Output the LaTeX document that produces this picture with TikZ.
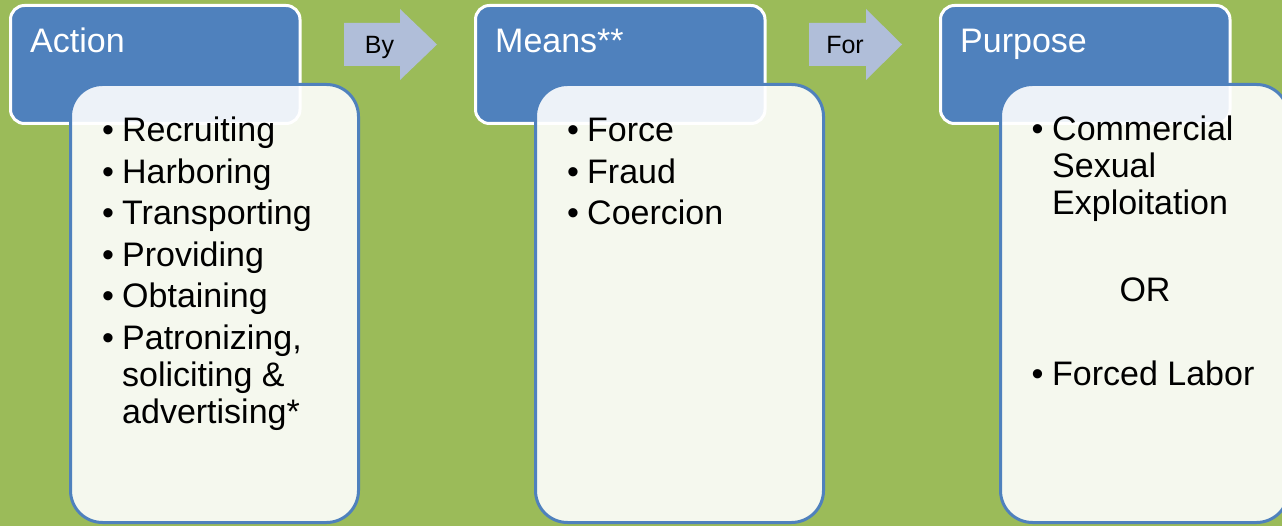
\documentclass[tikz,border=0pt]{standalone}
\usepackage{fontspec}
\setmainfont{Liberation Sans}
\definecolor{bg}{HTML}{9BBB59}
\definecolor{acc}{HTML}{4F81BD}
\definecolor{arr}{HTML}{B0BED9}
\begin{document}
\begin{tikzpicture}[x=1pt,y=-1pt,
  hdr/.style={draw=white, line width=3pt, fill=acc, rounded corners=14pt,
    minimum width=289.5pt, minimum height=118pt, anchor=north west,
    inner sep=0pt, outer sep=0pt},
  card/.style={draw=acc, line width=3pt, fill=white, fill opacity=0.9,
    draw opacity=1, rounded corners=32pt, minimum width=288pt,
    minimum height=438pt, anchor=north west, inner sep=0pt, outer sep=0pt},
  htxt/.style={text=white, anchor=base west, inner sep=0pt,
    font=\fontsize{34}{37}\selectfont},
  itm/.style={text=black, anchor=base west, inner sep=0pt,
    font=\fontsize{34}{37}\selectfont},
  bul/.style={text=black, anchor=base, inner sep=0pt,
    font=\fontsize{34}{37}\selectfont},
  atxt/.style={text=black, anchor=base, inner sep=0pt,
    font=\fontsize{25}{28}\selectfont},
  arrowshape/.style={fill=arr, draw=none}
]
\useasboundingbox (0,0) rectangle (1282,526);
\clip (0,0) rectangle (1282,526);
\fill[bg] (0,0) rectangle (1282,526);

% header boxes
\node[hdr] (h1) at (10.5,5.5) {};
\node[hdr] (h2) at (475.5,5.5) {};
\node[hdr] (h3) at (940.5,5.5) {};

% cards
\node[card] (c1) at (70.5,84.5) {};
\node[card] (c2) at (535.5,84.5) {};
\node[card] (c3) at (1000.5,84.5) {};

% header texts
\node[htxt] (t1) at (30,53) {Action};
\node[htxt] (t2) at (495,53) {Means**};
\node[htxt] (t3) at (960,53) {Purpose};

% arrows
\fill[arrowshape] (344,23) -- (400,23) -- (400,9) -- (437,44.5) -- (400,80) -- (400,66) -- (344,66) -- cycle;
\fill[arrowshape] (809,23) -- (866,23) -- (866,9) -- (902,44.5) -- (866,80) -- (866,66) -- (809,66) -- cycle;
\node[atxt] (by) at (379.5,54) {By};
\node[atxt] (for) at (845,54) {For};

% Action items
\node[bul] (b11) at (108,142) {•};   \node[itm] (a11) at (122,142) {Recruiting};
\node[bul] (b12) at (108,183.5) {•}; \node[itm] (a12) at (122,183.5) {Harboring};
\node[bul] (b13) at (108,225) {•};   \node[itm] (a13) at (122,225) {Transporting};
\node[bul] (b14) at (108,266.5) {•}; \node[itm] (a14) at (122,266.5) {Providing};
\node[bul] (b15) at (108,308) {•};   \node[itm] (a15) at (122,308) {Obtaining};
\node[bul] (b16) at (108,349.5) {•}; \node[itm] (a16) at (122,349.5) {Patronizing,};
\node[itm] (a17) at (122,386.5) {soliciting \&};
\node[itm] (a18) at (122,423.5) {advertising*};

% Means items
\node[bul] (b21) at (573,142) {•};   \node[itm] (a21) at (587,142) {Force};
\node[bul] (b22) at (573,183.5) {•}; \node[itm] (a22) at (587,183.5) {Fraud};
\node[bul] (b23) at (573,225) {•};   \node[itm] (a23) at (587,225) {Coercion};

% Purpose items
\node[bul] (b31) at (1037.5,141) {•}; \node[itm] (a31) at (1052,141) {Commercial};
\node[itm] (a32) at (1052,178) {Sexual};
\node[itm] (a33) at (1052,215) {Exploitation};
\node[bul] (or) at (1145,302) {OR};
\node[bul] (b34) at (1037.5,385) {•}; \node[itm] (a34) at (1052,385) {Forced Labor};
\end{tikzpicture}
\end{document}
